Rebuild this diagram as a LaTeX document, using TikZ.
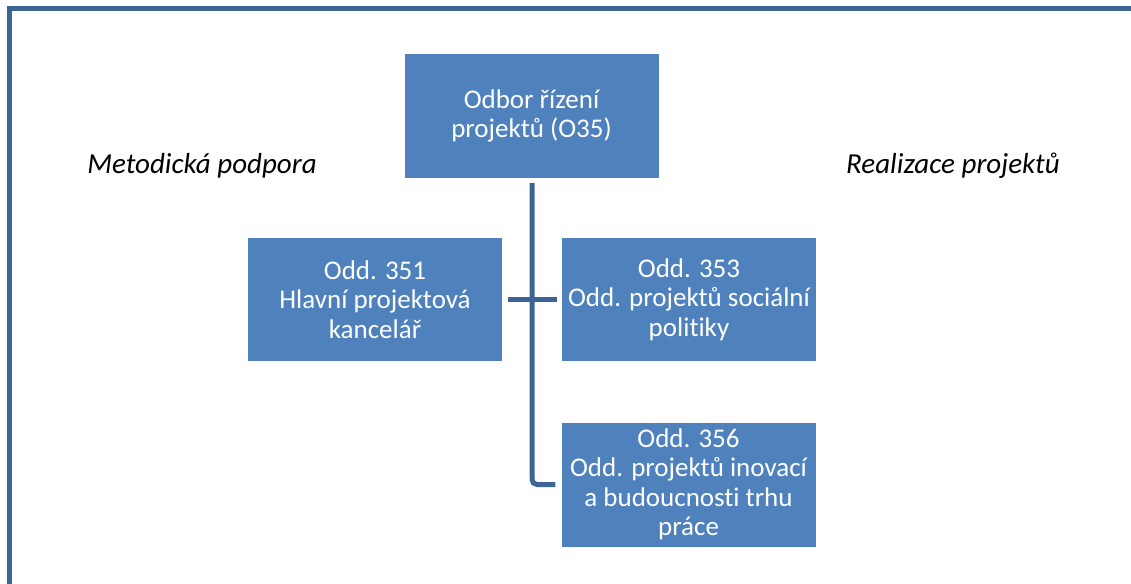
\documentclass[tikz,border=0pt]{standalone}
\usepackage{fontspec}
\setmainfont{Carlito}[Ligatures=NoCommon]
\definecolor{boxblue}{HTML}{4F81BD}
\definecolor{lineblue}{HTML}{3D6496}
\begin{document}
\begin{tikzpicture}[x=1pt,y=-1pt,
  unit/.style={fill=boxblue, draw=none, text=white, minimum width=254pt, minimum height=123pt,
    align=center, inner sep=0pt, font=\fontsize{27}{29.5}\selectfont},
  conn/.style={draw=lineblue, line width=5pt},
  side/.style={font=\fontsize{29}{34}\selectfont\itshape, text=black}]
\useasboundingbox (0,0) rectangle (1131,583);
\draw[draw=lineblue, line width=5pt] (9.5,8.7) rectangle (1150,600);
\node[unit, minimum height=124pt] (top) at (531.5,116) {Odbor řízení\\projektů (O35)};
\node[unit] (o351) at (375,299.5) {Odd. 351\\Hlavní projektová\\kancelář};
\node[unit] (o353) at (689,299.5) {Odd. 353\\Odd. projektů sociální\\politiky};
\node[unit, minimum height=124pt] (o356) at (688.5,484.5) {Odd. 356\\Odd. projektů inovací\\a budoucnosti trhu\\práce};
\node[side] (mp) at (202,166) {Metodická podpora};
\node[side] (rp) at (953,166) {Realizace projektů};
\draw[conn, rounded corners=5pt] ([xshift=0.5pt,yshift=-5pt]top.south) |- ([xshift=-6pt]o356.west);
\draw[conn] ([xshift=6pt]o351.east) -- ([xshift=-5pt]o353.west);
\end{tikzpicture}
\end{document}
